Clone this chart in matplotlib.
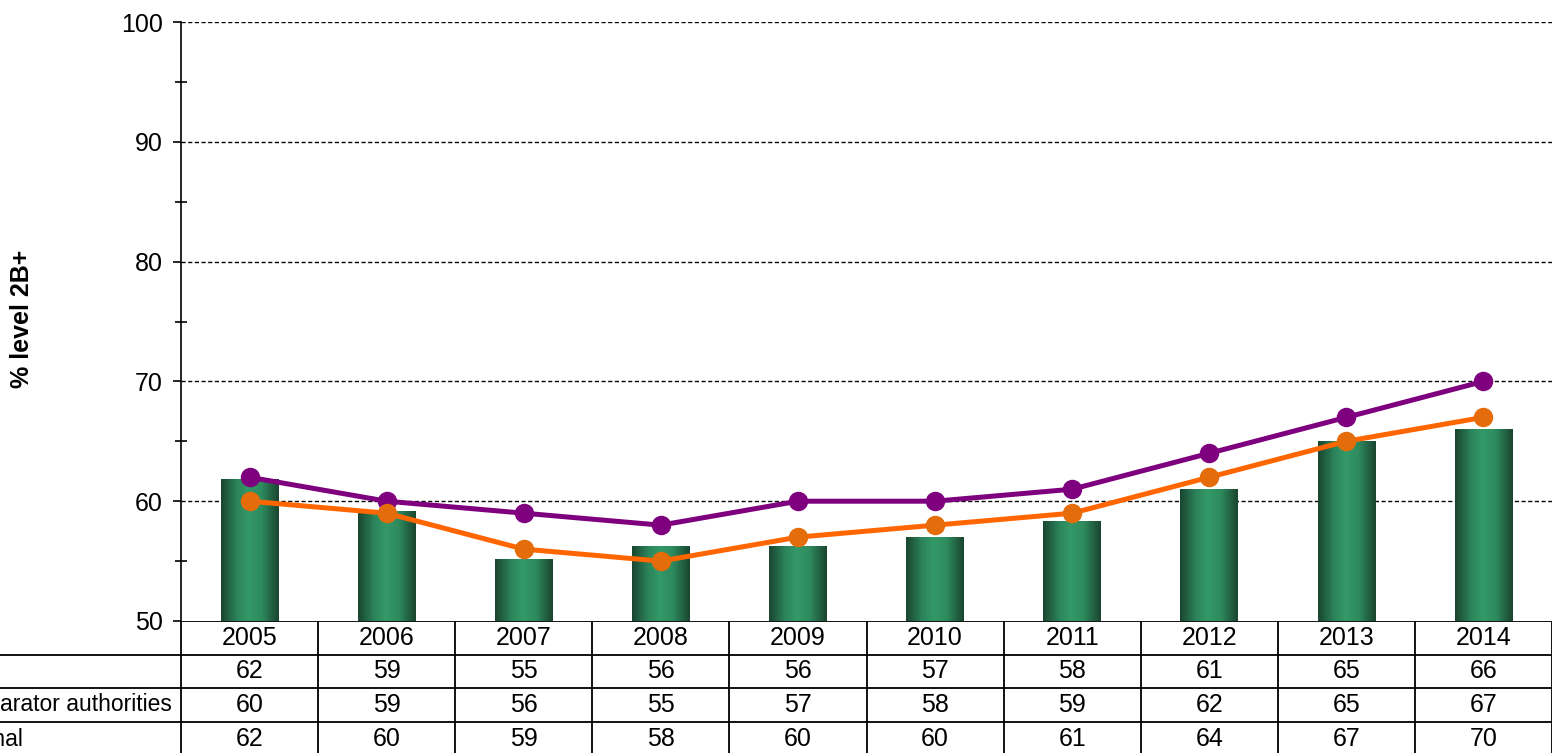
import numpy as np
import matplotlib
matplotlib.use("Agg")
import matplotlib.pyplot as plt
from matplotlib.colors import LinearSegmentedColormap
from matplotlib.transforms import blended_transform_factory

plt.rcParams["font.family"] = ["Liberation Sans", "DejaVu Sans"]

# ---------------------------------------------------------------- dados
anos = ["2005", "2006", "2007", "2008", "2009", "2010", "2011", "2012", "2013", "2014"]
escola = [61.8, 59.1, 55.1, 56.2, 56.2, 57.0, 58.3, 61.0, 65.0, 66.0]
escola_tab = [62, 59, 55, 56, 56, 57, 58, 61, 65, 66]
comparadores = [60, 59, 56, 55, 57, 58, 59, 62, 65, 67]
nacional = [62, 60, 59, 58, 60, 60, 61, 64, 67, 70]
rotulos = ["", "Comparator authorities", "National"]

ROXO, LARANJA, LARANJA_MK = "#7F007F", "#FF6600", "#E46C0A"
W, H = 1552, 753
FS = 18
FS_ROT = 16.5

fig = plt.figure(figsize=(W / 100, H / 100), dpi=100)
ax = fig.add_axes([181 / W, 1 - 621 / H, 1 - 181 / W, (621 - 22) / H])

x = np.arange(len(anos))

# barras com gradiente horizontal
cmap = LinearSegmentedColormap.from_list(
    "verde", [(0, "#1A4530"), (0.28, "#2C845A"), (0.48, "#339968"),
              (0.7, "#2E8B5E"), (1, "#1A4530")])
grad = np.linspace(0, 1, 256).reshape(1, -1)
larg = 0.42
for xi, v in zip(x, escola):
    ax.imshow(grad, cmap=cmap, aspect="auto", zorder=2,
              extent=(xi - larg / 2, xi + larg / 2, 50, v))
ax.set_xlim(-0.5, len(anos) - 0.5)
ax.set_ylim(50, 100)

# linhas
ax.plot(x, nacional, color=ROXO, lw=3.6, marker="o", ms=13,
        mfc=ROXO, mec=ROXO, zorder=4)
ax.plot(x, comparadores, color=LARANJA, lw=3.6, marker="o", ms=13,
        mfc=LARANJA_MK, mec=LARANJA_MK, zorder=5)

# eixos
ax.set_yticks([50, 60, 70, 80, 90, 100])
ax.set_yticks([55, 65, 75, 85, 95], minor=True)
ax.tick_params(axis="y", which="major", length=6, width=1.2, labelsize=FS, pad=7)
ax.tick_params(axis="y", which="minor", length=9, width=1.2, direction="inout")
ax.set_xticks([])
for g in [60, 70, 80, 90, 100]:
    ax.axhline(g, color="black", lw=1.0, ls=(0, (3, 1.8)), zorder=1)
for s in ["top", "right", "bottom"]:
    ax.spines[s].set_visible(False)
ax.spines["left"].set_linewidth(1.2)
fig.text(22 / W, 1 - 319 / H, "% level 2B+", rotation=90, ha="center", va="center",
         fontsize=FS, fontweight="bold")

# ---------------------------------------------------------------- tabela
ov = fig.add_axes([0, 0, 1, 1], zorder=-1)
ov.set_xlim(0, W); ov.set_ylim(H, 0); ov.axis("off")
tr = blended_transform_factory(ax.transData, ov.transData)

lw = 1.3
for yl in [655, 688, 722]:
    ov.plot([0, W], [yl, yl], color="black", lw=lw, solid_capstyle="butt")
ov.plot([181, W], [621, 621], color="black", lw=lw)
for b in np.arange(len(anos) + 1) - 0.5:
    ov.plot([b, b], [621, H], color="black", lw=lw, transform=tr)

linhas = [anos, escola_tab, comparadores, nacional]
ys = [638, 671, 705, 739]
for vals, yy in zip(linhas, ys):
    for xi, v in zip(x, vals):
        ov.text(xi, yy, str(v), transform=tr, ha="center", va="center", fontsize=FS)

# rotulos alinhados a esquerda, cortados pela borda da figura
r = fig.canvas.get_renderer()
t = ov.text(0, 0, "Comp", fontsize=FS_ROT)
x0 = -t.get_window_extent(r).width
t.remove()
for rot, yy in zip(rotulos, ys[1:]):
    ov.text(x0, yy, rot, ha="left", va="center", fontsize=FS_ROT)

fig.savefig("out.png", dpi=100)
